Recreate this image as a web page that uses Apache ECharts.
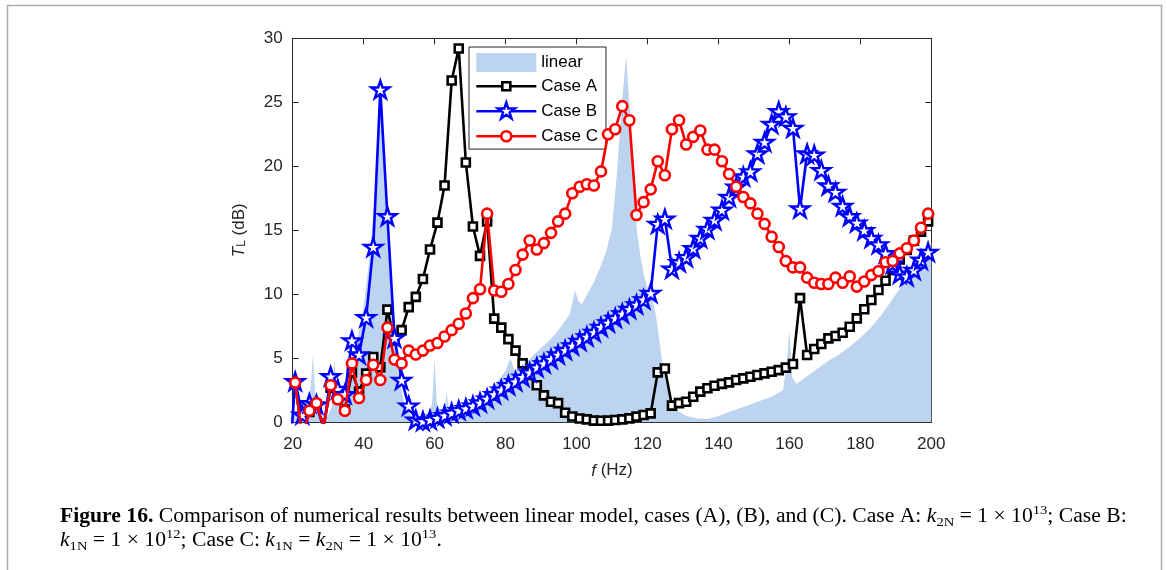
<!DOCTYPE html>
<html>
<head>
<meta charset="utf-8">
<script src="https://cdn.jsdelivr.net/npm/echarts/dist/echarts.min.js"></script>
<style>
  html, body { margin: 0; padding: 0; background: #fff; }
  #chart { width: 1167px; height: 570px; }
</style>
</head>
<body>
<div id="chart"></div>
<script>
// Frequency grid shared by the three nonlinear cases (Hz)
const freq = [20.7,22.7,24.7,26.7,28.7,30.7,32.7,34.7,36.7,38.7,
  40.7,42.7,44.7,46.7,48.7,50.7,52.7,54.7,56.7,58.7,
  60.8,62.8,64.8,66.8,68.8,70.8,72.8,74.8,76.8,78.8,
  80.8,82.8,84.8,86.8,88.8,90.8,92.8,94.8,96.8,98.8,
  100.9,102.9,104.9,106.9,108.9,110.9,112.9,114.9,116.9,118.9,
  120.9,122.9,124.9,126.9,128.9,130.9,132.9,134.9,136.9,138.9,
  141.0,143.0,145.0,147.0,149.0,151.0,153.0,155.0,157.0,159.0,
  161.0,163.0,165.0,167.0,169.0,171.0,173.0,175.0,177.0,179.0,
  181.1,183.1,185.1,187.1,189.1,191.1,193.1,195.1,197.1,199.1];

// Transmission loss T_L (dB), Case A
const caseA = [3.0,-1.0,0.8,1.4,-0.3,2.7,1.9,1.0,3.9,2.4,
  3.8,5.1,4.3,8.8,6.4,7.2,9.0,9.8,11.2,13.5,
  15.6,18.5,26.7,29.2,20.3,15.3,13.0,15.7,8.1,7.4,
  6.5,5.6,4.6,3.7,2.9,2.1,1.6,1.5,0.75,0.45,
  0.3,0.23,0.13,0.12,0.13,0.18,0.23,0.31,0.44,0.57,
  0.7,3.9,4.2,1.3,1.5,1.6,2.0,2.4,2.66,2.86,
  3.0,3.12,3.3,3.43,3.56,3.69,3.82,3.95,4.08,4.27,
  4.55,9.7,5.26,5.73,6.12,6.56,6.74,7.0,7.47,8.12,
  8.83,9.55,10.34,11.06,11.9,12.73,13.46,14.19,14.9,15.7];

// Case B starts one step below the axis range
const caseBLeadFreq = [18.7];
const caseBLead = [-4.5];
const caseB = [3.2,0.6,1.5,1.4,-0.5,3.6,2.6,2.2,6.4,5.3,
  8.2,13.7,26.0,16.1,6.6,3.3,1.3,0.2,0.1,0.2,
  0.35,0.55,0.75,0.95,1.1,1.3,1.55,1.85,2.2,2.55,
  2.9,3.2,3.55,3.9,4.3,4.6,4.95,5.3,5.65,6.0,
  6.35,6.7,7.05,7.45,7.8,8.15,8.5,8.85,9.2,9.6,
  10.1,15.5,15.9,12.0,12.5,12.9,13.6,14.4,15.1,15.8,
  16.6,17.6,18.4,19.2,19.6,21.0,21.9,23.3,24.3,23.9,
  23.0,16.7,21.0,20.9,19.7,18.5,18.0,16.9,16.1,15.6,
  15.0,14.4,13.9,13.2,12.4,11.6,11.4,11.9,12.7,13.3];

const caseC = [3.1,-1.2,0.9,1.5,-0.4,2.9,1.8,0.9,4.6,1.9,
  3.3,4.5,3.3,7.4,4.9,4.6,5.6,5.3,5.6,6.0,
  6.2,6.7,7.2,7.7,8.5,9.7,10.4,16.3,10.3,10.2,
  10.8,11.9,13.1,14.2,13.5,14.0,14.8,15.7,16.3,17.9,
  18.4,18.6,18.5,19.6,22.5,22.9,24.7,23.6,16.2,17.2,
  18.2,20.4,19.3,22.9,23.6,21.7,22.3,22.8,21.3,21.3,
  20.4,19.4,18.4,17.6,17.1,16.3,15.5,14.5,13.7,12.6,
  12.1,12.1,11.3,10.9,10.8,10.8,11.3,10.9,11.4,10.6,
  11.0,11.5,11.8,12.5,12.6,13.2,13.6,14.2,15.2,16.3];

// Linear model, finer frequency resolution
const linFreq = [20,21.5,23,24.6,25.7,26.6,28,30,31,31.8,
  32.6,34,35.5,37,38.5,40,41.5,43,44,44.8,
  45.6,46.4,47.2,48,49,50,51,52,53.5,55,
  57,58.5,59.3,60,60.6,61.5,62.8,63.4,64,66,
  68,70,72,74,76,78,80,81.3,82.5,84,
  86,88,90,92,94,96,98,99.6,100.5,101.5,
  103,105,107,108.5,110,111.4,112.8,114,115.1,116,
  117,118,119,120,121.5,122.6,124,125.5,127,129,
  131,134,137,140,143,146,149,152,155,158.2,
  159.2,160,160.8,162,165,168,171,174,177,180,
  183,186,189,192,195,198,200];
const linVals = [1.0,0.5,0.4,0.9,5.3,0.9,0.4,0.6,1.2,5.0,
  1.3,1.8,3.2,5.0,6.8,9.0,12.5,17.0,22.5,26.0,
  21.5,16.5,12.5,9.0,6.0,3.6,2.0,1.0,0.5,0.3,
  0.3,0.6,1.5,5.0,1.5,0.9,1.0,2.3,1.0,0.8,
  0.9,1.3,1.6,2.0,2.6,3.3,4.0,5.0,4.1,4.1,
  4.7,5.3,5.8,6.3,6.9,7.6,8.4,10.3,9.5,9.2,
  10.0,11.0,12.3,13.5,15.2,19.5,25.0,28.6,24.0,19.0,
  15.0,13.0,11.5,10.5,9.5,8.0,5.0,2.8,1.5,0.8,
  0.5,0.3,0.25,0.5,0.8,1.1,1.4,1.7,2.0,2.5,
  4.5,7.1,3.5,3.0,3.6,4.2,4.8,5.3,5.9,6.6,
  7.4,8.4,9.6,10.8,12.0,13.2,14.0];

const xTicks = { min: 20, max: 200, step: 20 };
const yTicks = { min: 0, max: 30, step: 5 };

const SANS = 'Liberation Sans, Arial, Helvetica, sans-serif';
const SERIF = 'Liberation Serif, Times New Roman, serif';
const AXIS_COLOR = '#262626';
const LIN_COLOR = '#bcd4ef';
const STAR = 'path://M0,-10 L2.245,-3.09 L9.511,-3.09 L3.633,1.18 L5.878,8.09 L0,3.82 L-5.878,8.09 L-3.633,1.18 L-9.511,-3.09 L-2.245,-3.09 Z';

// Legend icons: a 60x19 box holding a line with the marker in its middle
const ICON_BOX = 'M0,0 M60,19 ';
const ICON_A = 'path://' + ICON_BOX + 'M0,9.5 L25.5,9.5 M34.5,9.5 L60,9.5 M26,5.5 L34,5.5 L34,13.5 L26,13.5 Z';
const ICON_B = 'path://' + ICON_BOX + 'M0,9.5 L25,9.5 M35,9.5 L60,9.5 ' +
  'M30,0.5 L32.02,6.72 L38.56,6.72 L33.27,10.56 L35.29,16.78 L30,12.94 L24.71,16.78 L26.73,10.56 L21.44,6.72 L27.98,6.72 Z';
const ICON_C = 'path://' + ICON_BOX + 'M0,9.5 L25,9.5 M35,9.5 L60,9.5 M25,9.5 A5,5 0 1,0 35,9.5 A5,5 0 1,0 25,9.5 Z';

const pairs = (xs, ys) => xs.map((x, i) => [x, ys[i]]);

const baseAxis = {
  type: 'value',
  axisLine: { show: true, onZero: false, lineStyle: { color: AXIS_COLOR, width: 1 } },
  axisTick: { show: true, inside: true, length: 6, lineStyle: { color: AXIS_COLOR, width: 1 } },
  splitLine: { show: false }
};

const chart = echarts.init(document.getElementById('chart'), null, { renderer: 'canvas' });

chart.setOption({
  animation: false,
  backgroundColor: '#fff',
  grid: { left: 292.7, top: 38.3, width: 638.6, height: 384, containLabel: false },
  xAxis: [
    Object.assign({}, baseAxis, {
      position: 'bottom',
      min: xTicks.min, max: xTicks.max, interval: xTicks.step,
      axisLabel: { show: true, margin: 13.5, fontSize: 17, fontFamily: SANS, color: AXIS_COLOR },
      name: '{i|f} (Hz)',
      nameLocation: 'middle',
      nameGap: 40,
      nameTextStyle: {
        fontSize: 17, fontFamily: SANS, color: AXIS_COLOR,
        rich: { i: { fontSize: 17, fontFamily: SANS, fontStyle: 'italic', color: AXIS_COLOR } }
      }
    }),
    Object.assign({}, baseAxis, {
      position: 'top',
      min: xTicks.min, max: xTicks.max, interval: xTicks.step,
      axisLabel: { show: false }
    })
  ],
  yAxis: [
    Object.assign({}, baseAxis, {
      position: 'left',
      min: yTicks.min, max: yTicks.max, interval: yTicks.step,
      axisLabel: { show: true, margin: 10, padding: [3, 0, 0, 0], fontSize: 17, fontFamily: SANS, color: AXIS_COLOR },
      name: '{i|T}{s|L} (dB)',
      nameLocation: 'middle',
      nameGap: 45,
      nameRotate: 90,
      nameTextStyle: {
        fontSize: 17, fontFamily: SANS, color: AXIS_COLOR,
        rich: {
          i: { fontSize: 17, fontFamily: SANS, fontStyle: 'italic', color: AXIS_COLOR },
          s: { fontSize: 12, fontFamily: SANS, color: AXIS_COLOR, verticalAlign: 'bottom', lineHeight: 14 }
        }
      }
    }),
    Object.assign({}, baseAxis, {
      position: 'right',
      min: yTicks.min, max: yTicks.max, interval: yTicks.step,
      axisLabel: { show: false }
    })
  ],
  legend: {
    orient: 'vertical',
    left: 469, top: 47,
    itemWidth: 60, itemHeight: 19, itemGap: 3.5,
    padding: [6, 8, 2, 6],
    backgroundColor: '#fff',
    borderColor: AXIS_COLOR, borderWidth: 1,
    selectedMode: false,
    symbolKeepAspect: true,
    textStyle: { fontSize: 17, fontFamily: SANS, color: '#000' },
    data: [
      { name: 'linear', icon: 'rect', itemStyle: { color: LIN_COLOR, borderWidth: 0 } },
      { name: 'Case A', icon: ICON_A, itemStyle: { color: '#fff', borderColor: '#000', borderWidth: 2.6 } },
      { name: 'Case B', icon: ICON_B, itemStyle: { color: '#fff', borderColor: '#0000ff', borderWidth: 2.4 } },
      { name: 'Case C', icon: ICON_C, itemStyle: { color: '#fff', borderColor: '#ff0000', borderWidth: 2.6 } }
    ]
  },
  series: [
    {
      name: 'linear', type: 'line',
      data: pairs(linFreq, linVals),
      symbol: 'none', showSymbol: false,
      color: LIN_COLOR,
      lineStyle: { width: 0, color: LIN_COLOR },
      areaStyle: { color: LIN_COLOR, opacity: 1 },
      z: 1, silent: true
    },
    {
      name: 'Case A', type: 'line',
      data: pairs(freq, caseA),
      symbol: 'rect', symbolSize: 8,
      color: '#000',
      lineStyle: { color: '#000', width: 2.6 },
      itemStyle: { color: '#fff', borderColor: '#000', borderWidth: 2.6 },
      z: 3
    },
    {
      name: 'Case B', type: 'line',
      data: pairs(caseBLeadFreq.concat(freq), caseBLead.concat(caseB)),
      symbol: STAR, symbolSize: 18, symbolKeepAspect: true,
      color: '#0000ff',
      lineStyle: { color: '#0000ff', width: 2.6 },
      itemStyle: { color: '#fff', borderColor: '#0000ff', borderWidth: 2.4 },
      z: 4
    },
    {
      name: 'Case C', type: 'line',
      data: pairs(freq, caseC),
      symbol: 'circle', symbolSize: 10,
      color: '#ff0000',
      lineStyle: { color: '#ff0000', width: 2.6 },
      itemStyle: { color: '#fff', borderColor: '#ff0000', borderWidth: 2.6 },
      z: 5
    }
  ],
  graphic: [
    {
      type: 'rect', silent: true, z: 0,
      shape: { x: 7.5, y: 5.5, width: 1154, height: 640 },
      style: { fill: 'none', stroke: '#aaaaaa', lineWidth: 1.5 }
    },
    {
      type: 'text', x: 60, y: 505, scaleX: 1.082, silent: true,
      style: {
        x: 0, y: 0,
        text: '{b|Figure 16.} Comparison of numerical results between linear model, cases (A), (B), and (C). Case A: {i|k}{sub|2N} = 1 × 10{sup|13}; Case B:\n' +
              '{i|k}{sub|1N} = 1 × 10{sup|12}; Case C: {i|k}{sub|1N} = {i|k}{sub|2N} = 1 × 10{sup|13}.',
        fontSize: 20, fontFamily: SERIF, fill: '#000', lineHeight: 24,
        rich: {
          b: { fontSize: 20, fontFamily: SERIF, fontWeight: 'bold', fill: '#000', lineHeight: 24 },
          i: { fontSize: 20, fontFamily: SERIF, fontStyle: 'italic', fill: '#000', lineHeight: 24 },
          sub: { fontSize: 13.5, fontFamily: SERIF, fill: '#000', lineHeight: 16, verticalAlign: 'bottom' },
          sup: { fontSize: 13.5, fontFamily: SERIF, fill: '#000', height: 10, lineHeight: 10, verticalAlign: 'top' }
        }
      }
    }
  ]
});
</script>
</body>
</html>
